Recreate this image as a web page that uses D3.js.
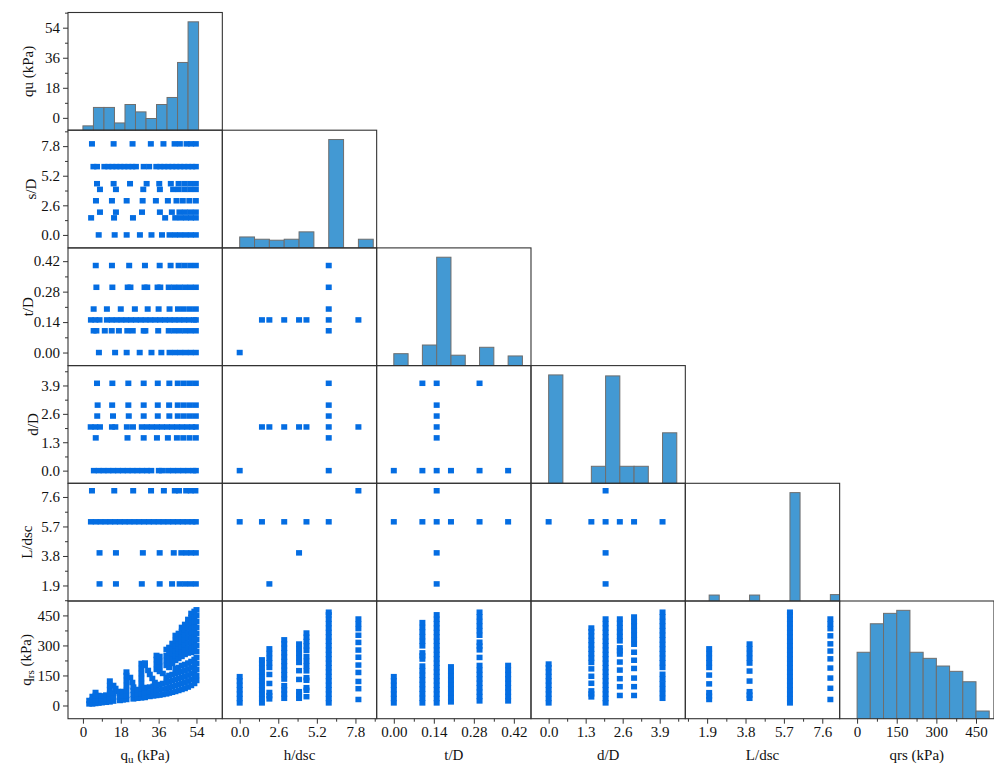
<!DOCTYPE html>
<html>
<head>
<meta charset="utf-8">
<script src="https://cdn.jsdelivr.net/npm/d3@7"></script>
<style>
  html, body { margin: 0; padding: 0; background: #fff; }
  svg { display: block; }
  text { font-family: "Liberation Serif", "Times New Roman", serif; fill: #111; }
</style>
</head>
<body>
<svg id="chart" width="994" height="767"></svg>
<script>
// ---------- variables of the matrix ----------
const varKeys = ["qu", "sD", "tD", "dD", "L", "qrs"];
const rowTitles = [["qu (kPa)"], ["s/D"], ["t/D"], ["d/D"], ["L/dsc"], ["q", "rs", " (kPa)"]];
const colTitles = [["q", "u", " (kPa)"], ["h/dsc"], ["t/D"], ["d/D"], ["L/dsc"], ["qrs (kPa)"]];

const xDomains = [[-7.1, 66.3], [-1.17, 9.23], [-0.06, 0.48], [-0.62, 4.8], [0.82, 8.46], [-66, 518]];
const yDomains = [[-7.4, 63.1], [-1.14, 9.2], [-0.06, 0.481], [-0.58, 4.81], [0.9, 8.48], [-66, 522]];

const tickValues = [
  [0, 18, 36, 54],
  [0, 2.6, 5.2, 7.8],
  [0, 0.14, 0.28, 0.42],
  [0, 1.3, 2.6, 3.9],
  [1.9, 3.8, 5.7, 7.6],
  [0, 150, 300, 450]
];
const tickFormats = ["d", ".1f", ".2f", ".1f", ".1f", "d"];

// ---------- diagonal histograms (bin start, relative frequency %) ----------
const histBinWidth = [5, 1, 0.05, 0.5, 0.5, 50];
const quHist  = [[0, 4.0], [5, 21.0], [10, 21.0], [15, 6.7], [20, 23.7], [25, 16.9], [30, 10.8], [35, 23.7], [40, 30.2], [45, 62.5], [50, 100]];
const sDHist  = [[0, 10.1], [1, 8.0], [2, 7.1], [3, 8.0], [4, 14.8], [6, 100], [8, 8.0]];
const tDHist  = [[0, 11.0], [0.1, 19.0], [0.15, 100], [0.2, 9.6], [0.3, 16.9], [0.4, 8.9]];
const dDHist  = [[0, 100], [1.5, 15.7], [2, 99.1], [2.5, 15.7], [3, 15.7], [4, 46.6]];
const LHist   = [[2, 5.5], [4, 5.5], [6, 100], [8, 5.9]];
const qrsHist = [[0, 61.3], [50, 87.6], [100, 97.2], [150, 100], [200, 61.3], [250, 55.7], [300, 48.6], [350, 43.7], [400, 34.1], [450, 7.1]];
const histograms = [quHist, sDHist, tDHist, dDHist, LHist, qrsHist];

// ---------- column 0: each row level with its qu values ----------
const sDvsQu = [
  [8,   [4.3, 14.6, 23.6, 32.3, 38.3, 43.6, 46.1, 49.3, 51.5, 53.7]],
  [6,   [5.0, 6.7, 10.2, 12.1, 14.0, 15.9, 17.8, 19.7, 21.6, 23.5, 25.2, 28.9, 31.5, 34.9, 36.8, 38.7, 40.6, 42.5, 44.4, 46.3, 48.2, 50.1, 52.0, 53.7]],
  [4.5, [6.7, 14.6, 22.4, 30.3, 36.3, 41.8, 45.5, 48.3, 51.0, 53.7]],
  [4,   [8.1, 15.7, 28.7, 36.6, 42.9, 45.5, 48.3, 51.0, 53.7]],
  [3,   [6.2, 13.8, 20.8, 28.4, 34.7, 40.4, 44.5, 47.5, 50.6, 53.7]],
  [2,   [8.1, 15.7, 28.1, 36.6, 42.3, 45.9, 48.5, 51.1, 53.7]],
  [1.5, [3.9, 14.8, 23.8, 39.1, 43.9, 46.5, 49.0, 51.4, 53.7]],
  [0,   [7.5, 15.1, 20.8, 27.1, 32.6, 37.6, 41.2, 43.8, 46.3, 48.8, 51.3, 53.7]]
];
const tDvsQu = [
  [0.4,  [6.1, 13.8, 22.0, 29.5, 36.5, 41.7, 45.5, 48.2, 51.0, 53.7]],
  [0.3,  [6.4, 14.0, 21.3, 22.6, 29.3, 30.6, 35.5, 36.8, 40.8, 43.4, 46.0, 48.6, 51.2, 53.7]],
  [0.2,  [5.1, 11.4, 18.0, 24.7, 30.8, 36.0, 41.2, 45.2, 48.0, 50.9, 53.7]],
  [0.15, [3.8, 5.9, 7.9, 11.4, 13.7, 16.0, 18.3, 20.6, 22.9, 25.2, 27.5, 29.8, 32.1, 34.4, 36.7, 39.0, 41.3, 43.6, 45.9, 48.2, 50.5, 52.8, 53.7]],
  [0.1,  [5.1, 6.4, 10.4, 13.7, 17.1, 21.1, 23.7, 28.9, 29.7, 35.8, 40.8, 43.4, 46.0, 48.6, 51.2, 53.7]],
  [0,    [7.6, 15.3, 20.8, 27.0, 32.6, 37.3, 41.2, 43.8, 46.3, 48.8, 51.3, 53.7]]
];
const dDvsQu = [
  [4,   [6.7, 14.0, 21.6, 28.9, 35.6, 41.1, 45.1, 48.0, 50.9, 53.7]],
  [3,   [7.0, 13.9, 21.6, 28.9, 35.6, 41.0, 45.1, 48.0, 50.9, 53.7]],
  [2.5, [6.8, 14.3, 21.8, 28.9, 35.6, 41.1, 45.1, 48.0, 50.9, 53.7]],
  [2,   [3.7, 5.9, 8.1, 13.8, 15.4, 20.9, 23.8, 28.0, 30.4, 32.8, 35.2, 37.6, 40.0, 42.4, 44.8, 47.2, 49.6, 52.0, 53.7]],
  [1.5, [6.1, 21.2, 28.9, 35.2, 40.4, 44.7, 47.7, 50.7, 53.7]],
  [0,   [5.2, 7.5, 9.8, 12.1, 14.4, 16.7, 19.0, 21.3, 23.6, 25.9, 28.2, 30.5, 32.5, 36.1, 37.6, 40.5, 42.9, 45.3, 47.7, 50.1, 52.5, 53.7]]
];
const LvsQu = [
  [8, [4.3, 14.9, 23.9, 32.4, 38.5, 43.7, 45.7, 49.1, 51.3, 53.5]],
  [6, [3.8, 6.1, 8.4, 10.7, 13.0, 15.3, 17.6, 19.9, 22.2, 24.5, 26.8, 29.1, 31.4, 33.7, 36.0, 38.3, 40.6, 42.9, 45.2, 47.5, 49.8, 52.1, 53.7]],
  [4, [7.9, 15.7, 28.5, 36.5, 43.2, 46.8, 49.2, 51.5, 53.7]],
  [2, [7.9, 15.7, 28.0, 36.5, 42.4, 46.0, 48.6, 51.2, 53.7]]
];

// ---------- bottom row: qrs against qu (qu, list of qrs) ----------
const qrsVsQu = [
  [3.0,  [8, 25]],
  [4.5,  [8, 28, 45]],
  [6.0,  [10, 30, 50, 65]],
  [7.5,  [12, 30, 50]],
  [9.0,  [14, 32, 48]],
  [11.0, [16, 35, 52]],
  [12.8, [18, 40, 60, 80, 100, 122]],
  [14.5, [22, 42, 62, 100]],
  [15.5, [85]],
  [16.5, [70]],
  [17.6, [25, 45, 65]],
  [19.0, [28, 48, 70]],
  [20.7, [30, 50, 75, 100, 125, 150, 167]],
  [22.5, [140]],
  [23.5, [115]],
  [24.0, [33, 55, 75, 92]],
  [26.0, [36, 58, 80]],
  [27.8, [38, 60, 85, 110, 135, 160, 185, 210]],
  [29.5, [40, 65, 90, 200, 212]],
  [31.0, [175]],
  [31.8, [45, 68, 92, 155]],
  [33.0, [135]],
  [33.5, [48, 72, 96]],
  [34.2, [115]],
  [35.0, [50, 75, 100, 180, 205, 230, 250]],
  [36.5, [52, 78, 105, 170, 195, 220, 245]],
  [38.0, [55, 82, 110, 160]],
  [39.7, [58, 85, 115, 140, 200, 225, 250, 280]],
  [41.0, [62, 90, 120, 150, 190, 215, 240, 265, 290]],
  [42.5, [66, 95, 125, 155, 210, 235, 260, 285, 310]],
  [44.0, [70, 100, 130, 160, 185, 225, 250, 275, 300, 325, 350]],
  [45.5, [75, 105, 135, 165, 190, 235, 260, 285, 310, 335, 360]],
  [47.0, [80, 110, 140, 170, 200, 245, 270, 295, 320, 345, 370, 390]],
  [48.5, [85, 115, 145, 175, 205, 255, 280, 305, 330, 355, 380, 405]],
  [50.0, [92, 122, 152, 182, 212, 262, 287, 312, 337, 362, 387, 412, 430]],
  [51.5, [100, 130, 160, 190, 220, 265, 290, 315, 340, 365, 390, 415, 440, 460]],
  [53.0, [110, 140, 170, 200, 230, 270, 295, 320, 345, 370, 395, 420, 445, 470]],
  [54.0, [125, 150, 180, 210, 240, 270, 300, 330, 360, 390, 420, 450, 478]]
];

// ---------- bottom row: qrs for each level of the discrete variables ----------
const qrsVsH = [
  [0,   [13, 35, 57, 79, 101, 123, 144]],
  [1.5, [13, 35, 57, 79, 101, 123, 145, 167, 189, 211, 228]],
  [2,   [33, 49, 65, 110, 155, 190, 213, 236, 260, 283]],
  [3,   [36, 57, 78, 99, 132, 154, 176, 198, 220, 242, 264, 286, 308, 328]],
  [4,   [36, 52, 69, 130, 174, 215, 238, 261, 284, 307]],
  [4.5, [44, 76, 89, 126, 139, 173, 197, 221, 245, 276, 298, 320, 341, 362]],
  [6,   [13, 35, 57, 79, 101, 123, 145, 167, 189, 211, 233, 255, 277, 299, 321, 343, 365, 387, 409, 431, 453, 466]],
  [8,   [30, 84, 120, 165, 202, 241, 277, 315, 351, 384, 408, 432]]
];
const qrsVsT = [
  [0,    [13, 35, 57, 79, 101, 123, 144]],
  [0.1,  [13, 36, 59, 82, 105, 128, 151, 174, 197, 232, 248, 263, 298, 321, 344, 367, 390, 414]],
  [0.15, [13, 35, 57, 79, 101, 123, 145, 167, 189, 211, 233, 255, 277, 299, 321, 343, 365, 387, 409, 431, 453]],
  [0.2,  [18, 40, 62, 84, 106, 128, 150, 172, 193]],
  [0.3,  [23, 45, 67, 89, 111, 133, 155, 177, 200, 240, 278, 297, 316, 351, 374, 397, 420, 443, 466]],
  [0.4,  [23, 45, 67, 89, 111, 133, 155, 177, 200]]
];
const qrsVsD = [
  [0,   [13, 35, 57, 79, 101, 123, 145, 167, 189, 207]],
  [1.5, [43, 58, 73, 111, 146, 183, 215, 237, 259, 281, 303, 325, 347, 369, 387]],
  [2,   [13, 35, 57, 79, 101, 123, 145, 167, 189, 211, 233, 255, 277, 299, 321, 343, 365, 387, 409, 432]],
  [2.5, [50, 94, 134, 177, 217, 257, 273, 288, 323, 345, 367, 389, 411, 432]],
  [3,   [50, 94, 137, 185, 226, 266, 306, 329, 352, 375, 398, 420, 442]],
  [4,   [36, 60, 84, 108, 132, 156, 190, 213, 236, 259, 282, 305, 328, 351, 374, 397, 420, 443, 466]]
];
const qrsVsL = [
  [2, [30, 47, 64, 108, 152, 190, 213, 236, 260, 283]],
  [4, [36, 52, 69, 122, 172, 212, 236, 260, 284, 307]],
  [6, [13, 35, 57, 79, 101, 123, 145, 167, 189, 211, 233, 255, 277, 299, 321, 343, 365, 387, 409, 431, 453, 466]],
  [8, [30, 86, 137, 187, 233, 272, 308, 348, 384, 408, 432]]
];

// ---------- panels between discrete variables: [x, y] pairs ----------
const tDvsH = [[0, 0], [1.5, 0.15], [2, 0.15], [3, 0.15], [4, 0.15], [4.5, 0.15], [6, 0.4], [6, 0.3], [6, 0.2], [6, 0.15], [6, 0.1], [8, 0.15]];
const dDvsH = [[0, 0], [6, 0], [6, 1.5], [6, 2], [6, 2.5], [6, 3], [6, 4], [1.5, 2], [2, 2], [3, 2], [4, 2], [4.5, 2], [8, 2]];
const dDvsT = [[0.1, 4], [0.15, 4], [0.3, 4], [0.15, 3], [0.15, 2.5], [0.15, 2], [0.15, 1.5], [0, 0], [0.1, 0], [0.15, 0], [0.2, 0], [0.3, 0], [0.4, 0]];
const LvsH  = [[8, 8], [0, 6], [1.5, 6], [3, 6], [4.5, 6], [6, 6], [4, 4], [2, 2]];
const LvsT  = [[0.15, 8], [0, 6], [0.1, 6], [0.15, 6], [0.2, 6], [0.3, 6], [0.4, 6], [0.15, 4], [0.15, 2]];
const LvsD  = [[2, 8], [0, 6], [1.5, 6], [2, 6], [2.5, 6], [3, 6], [4, 6], [2, 4], [2, 2]];

(function draw() {
  const svg = d3.select("#chart");
  const gridLeft = 68, gridTop = 12.5, cellW = 154.33, cellH = 117.7, n = 6;
  const colX = c => gridLeft + c * cellW;
  const rowY = r => gridTop + r * cellH;
  const xScale = c => d3.scaleLinear().domain(xDomains[c]).range([colX(c), colX(c) + cellW]);
  const yScale = r => d3.scaleLinear().domain(yDomains[r]).range([rowY(r) + cellH, rowY(r)]);

  const markColor = "#046de2";
  const barFill = "#4399d3";
  const barStroke = "#6e6e6e";
  const sqW = 6, sqH = 5.5;
  const fontFamily = "Liberation Serif, Times New Roman, serif";

  // expand "level -> list" strips into point pairs
  const horizStrips = strips => strips.flatMap(([lev, vals]) => vals.map(v => [v, lev]));
  const vertStrips = strips => strips.flatMap(([lev, vals]) => vals.map(v => [lev, v]));

  const scatterPanels = {
    "1,0": horizStrips(sDvsQu),
    "2,0": horizStrips(tDvsQu),
    "3,0": horizStrips(dDvsQu),
    "4,0": horizStrips(LvsQu),
    "5,0": vertStrips(qrsVsQu),
    "2,1": tDvsH,
    "3,1": dDvsH,
    "4,1": LvsH,
    "3,2": dDvsT,
    "4,2": LvsT,
    "4,3": LvsD,
    "5,1": vertStrips(qrsVsH),
    "5,2": vertStrips(qrsVsT),
    "5,3": vertStrips(qrsVsD),
    "5,4": vertStrips(qrsVsL)
  };

  const defs = svg.append("defs");

  for (let r = 0; r < n; r++) {
    for (let c = 0; c <= r; c++) {
      const x = xScale(c);
      const g = svg.append("g");
      const clipId = `clip-${r}-${c}`;
      defs.append("clipPath").attr("id", clipId)
        .append("rect").attr("x", colX(c)).attr("y", rowY(r)).attr("width", cellW).attr("height", cellH);
      const inner = g.append("g").attr("clip-path", `url(#${clipId})`);

      if (r === c) {
        // histogram on the diagonal
        const hy = d3.scaleLinear().domain([0, 108.6]).range([rowY(r) + cellH, rowY(r)]);
        const w = histBinWidth[c];
        inner.selectAll("rect.bar").data(histograms[c]).join("rect")
          .attr("class", "bar")
          .attr("x", d => x(d[0]))
          .attr("width", d => x(d[0] + w) - x(d[0]))
          .attr("y", d => hy(d[1]))
          .attr("height", d => hy(0) - hy(d[1]) + 2)
          .attr("fill", barFill)
          .attr("stroke", barStroke)
          .attr("stroke-width", 1);
      } else {
        const y = yScale(r);
        inner.selectAll("rect.pt").data(scatterPanels[`${r},${c}`]).join("rect")
          .attr("class", "pt")
          .attr("x", d => x(d[0]) - sqW / 2)
          .attr("y", d => y(d[1]) - sqH / 2)
          .attr("width", sqW)
          .attr("height", sqH)
          .attr("fill", markColor);
      }

      g.append("rect")
        .attr("x", colX(c)).attr("y", rowY(r))
        .attr("width", cellW).attr("height", cellH)
        .attr("fill", "none").attr("stroke", "#333").attr("stroke-width", 1.1);
    }
  }

  // minor ticks halfway between majors, across the whole domain
  function minorTicks(ticks, domain) {
    const step = (ticks[1] - ticks[0]) / 2;
    const out = [];
    const k0 = Math.ceil((domain[0] - ticks[0]) / step - 1e-9);
    const k1 = Math.floor((domain[1] - ticks[0]) / step + 1e-9);
    for (let k = k0; k <= k1; k++) if (k % 2 !== 0) out.push(ticks[0] + k * step);
    return out;
  }

  function styleAxis(ax) {
    ax.call(g => g.select(".domain").remove());
    ax.selectAll("text").attr("font-size", 15).attr("font-family", fontFamily).attr("fill", "#111");
    ax.selectAll("line").attr("stroke", "#333");
  }

  // left axes (one per row)
  for (let r = 0; r < n; r++) {
    const y = yScale(r);
    const ax = svg.append("g").attr("transform", `translate(${gridLeft},0)`);
    ax.call(d3.axisLeft(y).tickValues(tickValues[r]).tickFormat(d3.format(tickFormats[r])).tickSize(5).tickPadding(3));
    styleAxis(ax);
    const mx = svg.append("g").attr("transform", `translate(${gridLeft},0)`);
    mx.call(d3.axisLeft(y).tickValues(minorTicks(tickValues[r], yDomains[r])).tickFormat("").tickSize(3));
    styleAxis(mx);
  }

  // bottom axes (one per column)
  const bottom = rowY(n - 1) + cellH;
  for (let c = 0; c < n; c++) {
    const x = xScale(c);
    const ax = svg.append("g").attr("transform", `translate(0,${bottom})`);
    ax.call(d3.axisBottom(x).tickValues(tickValues[c]).tickFormat(d3.format(tickFormats[c])).tickSize(5).tickPadding(3));
    styleAxis(ax);
    const mx = svg.append("g").attr("transform", `translate(0,${bottom})`);
    mx.call(d3.axisBottom(x).tickValues(minorTicks(tickValues[c], xDomains[c])).tickFormat("").tickSize(3));
    styleAxis(mx);
  }

  // axis titles with optional subscripts
  function writeTitle(sel, parts) {
    sel.append("tspan").text(parts[0]);
    if (parts.length > 1) {
      sel.append("tspan").attr("font-size", 11).attr("dy", 3).text(parts[1]);
      sel.append("tspan").attr("dy", -3).text(parts[2]);
    }
  }
  const rowTitleX = [28, 31, 28, 33, 27, 26];
  rowTitles.forEach((parts, r) => {
    const cy = rowY(r) + cellH / 2;
    const t = svg.append("text")
      .attr("transform", `translate(${rowTitleX[r] + 5},${cy}) rotate(-90)`)
      .attr("text-anchor", "middle")
      .attr("font-size", 15).attr("font-family", fontFamily);
    writeTitle(t, parts);
  });
  colTitles.forEach((parts, c) => {
    const t = svg.append("text")
      .attr("x", colX(c) + cellW / 2).attr("y", 760)
      .attr("text-anchor", "middle").attr("font-size", 15).attr("font-family", fontFamily);
    writeTitle(t, parts);
  });
})();
</script>
</body>
</html>
